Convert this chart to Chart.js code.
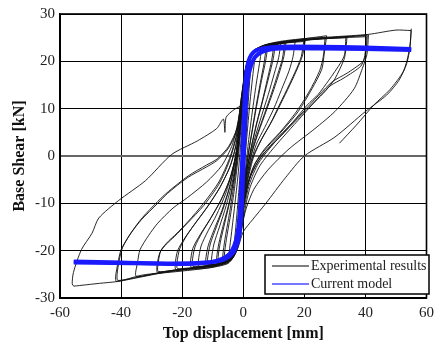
<!DOCTYPE html>
<html>
<head>
<meta charset="utf-8">
<script src="https://cdn.jsdelivr.net/npm/chart.js@4"></script>
<style>
  html, body { margin: 0; padding: 0; background: #fff; }
  #wrap { width: 440px; height: 345px; }
</style>
</head>
<body>
<div id="wrap"><canvas id="hyst" width="440" height="345"></canvas></div>
<script>
// axis ticks
const xTicks = [-60, -40, -20, 0, 20, 40, 60];
const yTicks = [-30, -20, -10, 0, 10, 20, 30];

// experimental loops, [displacement mm, shear kN]
const loopOuterDown = [[55,26.9],[54.6,23],[53.5,19.5],[51,16],[47,12.9],[40,9.4],[30,4],[20,0],[13.8,-4.6],[7.4,-10],[3,-13.5],[0,-16],[-1.8,-19.5],[-4,-22],[-10,-23.5],[-18,-24],[-25,-24.5],[-33,-25.5],[-41,-26.5],[-47,-26.9],[-55.5,-27.5]];
const loopOuterUp = [[-55.5,-27.5],[-56,-27],[-55.6,-24.6],[-53,-19.8],[-49.5,-16.3],[-47.3,-13.1],[-40.8,-9.4],[-32,-5.2],[-23.5,0.3],[-15,3.2],[-8.7,5.8],[-6.5,7.8],[-6,5],[-5.6,8.2],[-3,9.8],[-0.6,10.8],[0.3,14],[1,18],[2.5,21],[6,23.2],[12,24.2],[20,24.8],[30,25.2],[41,25.7],[50,26.6],[55,26.5]];
const loopOuterEnd = [[55,26.5],[54.4,22.5],[52.5,18],[48,14],[42.8,10.8],[37,6.5],[31.5,2.7]];
const loop41a = [[41,25.6],[40.5,21.5],[39,18.5],[36.3,14.2],[30,9.4],[23.5,5.8],[15,1.5],[8,-3],[3.5,-7],[1,-11],[-0.5,-15],[-2,-19.5],[-4.5,-22.3],[-10,-23.3],[-18,-23.8],[-25,-24.3],[-35,-25.4],[-34.6,-22.5],[-33.8,-19.8],[-31,-16.8],[-28,-14.2],[-23,-11],[-18.3,-8.8],[-12,-5.5],[-7,-2],[-3.5,2.5],[-1.5,8],[-0.3,14],[0.8,18.5],[2.5,21.3],[5.5,23],[12,24],[20,24.5],[30,25],[36,25.3],[41,25.6]];
const loop41b = [[40.6,25.4],[40,21],[39,19.8],[34,17.5],[29,15.6],[20.3,9.8],[10.6,3.1],[5,-1.5],[2,-6],[0.3,-11],[-1,-16],[-2.5,-20],[-5,-22.5],[-12,-23.5],[-20,-24],[-25,-24.5],[-33.4,-25.2],[-41.5,-26.5],[-41.8,-25.5],[-41,-22.5],[-40,-19.8],[-37,-16.5],[-33.4,-13.5],[-28,-10],[-24.8,-7.9],[-18.3,-4.6],[-12,-2.3],[-8.7,-1],[-5,1.5],[-2.2,5.2],[-0.8,11],[0.3,16],[1.5,19.8],[3.5,22.3],[8,23.6],[15,24.2],[25,24.8],[33,25.2],[40.6,25.4]];
const loop41c = [[40.3,25.2],[39.8,21.2],[38.5,19],[33,16.5],[28,14.6],[20,9],[11,2.5],[5.5,-2],[2.3,-6.5],[0.5,-11.5],[-0.8,-16.5],[-2.3,-20.3],[-5,-22.7],[-12,-23.7],[-20,-24.3],[-30,-25],[-41,-26.3],[-41.3,-25],[-40.6,-22],[-39.5,-19.3],[-36.5,-16],[-33,-13],[-28,-9.6],[-24.5,-7.5],[-18,-4.2],[-12,-1.9],[-8.5,-0.6],[-4.8,2],[-2,6],[-0.7,12],[0.4,16.5],[1.6,20],[3.8,22.5],[8,23.5],[15,24.1],[25,24.7],[33,25],[40.3,25.2]];
const loop34 = [[34,25.2],[33.5,22],[33,20.4],[30,16.3],[27,13.8],[23.5,11.5],[18,8],[12,4],[6,0],[2.5,-4],[0.5,-9],[-0.8,-14],[-2,-19],[-4,-21.8],[-8,-22.8],[-14,-23.4],[-20,-23.8],[-28,-24.6],[-28.3,-23.5],[-27.3,-20.4],[-25,-18.5],[-22.5,-17],[-18.3,-14.2],[-13,-10.5],[-8,-6],[-4.5,-1],[-2.3,4],[-0.9,10],[0.2,15.5],[1.3,19.5],[3,22],[7,23.4],[14,24.2],[22,24.7],[28,25],[34,25.2]];
const loop34b = [[33.6,25],[33.2,21.5],[32,19.8],[28,16],[24.5,13],[21,10.8],[16,7],[10,3],[5,-1],[2,-5],[0.3,-10],[-1,-15],[-2.2,-19.3],[-4.2,-22],[-9,-23],[-15,-23.6],[-20,-24],[-27.8,-24.4],[-28,-23.3],[-27,-20],[-24.5,-18],[-22,-16.5],[-18,-13.8],[-13,-10],[-8,-5.5],[-4.5,-0.5],[-2.2,4.5],[-0.8,10.5],[0.3,16],[1.4,19.8],[3.2,22.2],[7,23.3],[14,24],[22,24.6],[33.6,25]];
const loop27 = [[27.3,25.4],[26.5,21.5],[25.7,18.3],[22.5,14.2],[18,9.4],[13,5.5],[8,2],[4,-1.5],[1.5,-6],[0,-11],[-1.2,-16],[-2.5,-20],[-4.5,-22],[-9,-23],[-15,-23.5],[-22,-24],[-22.3,-23],[-21.5,-20],[-19,-17.2],[-16,-14.5],[-12,-11],[-8,-7],[-4.5,-2.5],[-2.5,2],[-1.2,8],[-0.2,14],[0.8,18.5],[2.3,21.3],[5,22.8],[10,23.8],[18,24.6],[27.3,25.4]];
const loop27b = [[26.8,25],[26.2,21],[25,18],[21.5,13.5],[17,9],[12,5],[7,1.5],[3.5,-2],[1.2,-6.5],[-0.2,-11.5],[-1.3,-16.5],[-2.6,-20.3],[-4.7,-22.2],[-9,-23.1],[-15,-23.6],[-21.5,-23.8],[-21.7,-22.6],[-20.8,-19.6],[-18.5,-16.8],[-15.5,-14],[-11.5,-10.5],[-7.5,-6.5],[-4.2,-2],[-2.3,2.5],[-1,8.5],[0,14.5],[1,19],[2.5,21.5],[5.5,23],[11,23.9],[18,24.5],[26.8,25]];
const loop20 = [[20.3,24.4],[19.5,21.5],[18.6,19.8],[16,16],[13,12],[9.5,7.5],[6,3.5],[3.5,0],[1.5,-5],[0,-10.5],[-1,-15.5],[-2.3,-19.5],[-4,-21.8],[-8,-22.8],[-12,-23.2],[-17,-23.5],[-17.3,-22.5],[-16.5,-19.5],[-14,-16.5],[-11,-13.5],[-7.5,-9.5],[-4.5,-5],[-2.5,0],[-1.3,6],[-0.3,13],[0.6,18],[2,21],[4.5,22.6],[9,23.5],[15,24],[20.3,24.4]];
const loop20b = [[19.8,24.2],[19,21],[17.5,18.5],[15,15],[12,11],[9,7],[5.5,3],[3,-0.5],[1.2,-5.5],[-0.2,-11],[-1.2,-16],[-2.5,-20],[-4.3,-22],[-8,-22.9],[-16.5,-23.3],[-16.7,-22.3],[-15.8,-19.2],[-13.5,-16.2],[-10.5,-13],[-7,-9],[-4.2,-4.5],[-2.3,0.5],[-1.1,6.5],[-0.1,13.5],[0.8,18.5],[2.2,21.3],[5,22.8],[10,23.6],[19.8,24.2]];
const loop17 = [[17,24.2],[16.3,21],[15,18],[12.5,14],[10,10],[7,6],[4.3,2.5],[2.2,-2],[0.6,-7.5],[-0.6,-13],[-1.6,-17.5],[-3,-20.8],[-5.5,-22.4],[-10,-23],[-14.5,-23.3],[-14.7,-22.2],[-13.8,-19],[-11.5,-15.8],[-8.8,-12.5],[-5.8,-8],[-3.5,-3],[-2,2],[-0.9,8],[0.1,14.5],[1,19],[2.6,21.6],[5.5,23],[11,23.8],[17,24.2]];
const loop12 = [[12.3,23.8],[11.6,20.8],[10.2,17.5],[8.2,13],[6,8.5],[3.8,3.8],[2,-0.5],[0.6,-5.5],[-0.5,-11.5],[-1.4,-16.5],[-2.6,-20],[-4.5,-21.9],[-7.5,-22.6],[-10.2,-22.9],[-10.4,-21.8],[-9.6,-18.6],[-7.8,-15],[-5.6,-10.5],[-3.6,-5.5],[-2.1,0],[-1,6.5],[0,13],[0.9,18],[2.3,21],[4.8,22.6],[8.5,23.3],[12.3,23.8]];
const loop14 = [[14,24],[13.3,21],[12,18],[10,14],[7.5,9.5],[5,5],[3,1],[1.3,-4],[0,-9.5],[-1,-14.5],[-2,-18.5],[-3.5,-21.3],[-6.5,-22.5],[-12,-23],[-12.3,-22],[-11.5,-19],[-9.5,-15.5],[-7,-11.5],[-4.5,-6.5],[-2.7,-1],[-1.4,5],[-0.4,12],[0.5,17],[1.8,20.5],[4,22.3],[8,23.3],[14,24]];
const loop14b = [[13.5,23.8],[12.8,20.5],[11.3,17.3],[9.3,13.3],[7,9],[4.6,4.6],[2.7,0.5],[1.1,-4.5],[-0.2,-10],[-1.1,-15],[-2.2,-19],[-3.8,-21.5],[-7,-22.6],[-11.5,-22.9],[-11.7,-21.8],[-10.8,-18.6],[-8.8,-15],[-6.5,-11],[-4.2,-6],[-2.5,-0.5],[-1.2,5.5],[-0.2,12.5],[0.7,17.5],[2,20.8],[4.3,22.4],[8.5,23.3],[13.5,23.8]];
const loop10 = [[10.5,23.5],[9.8,20.5],[8.5,17],[6.5,12],[4.5,7],[2.7,2],[1.2,-3],[0,-8.5],[-0.9,-13.5],[-1.8,-18],[-3.2,-21],[-5.5,-22.2],[-8.5,-22.5],[-8.7,-21.5],[-8,-18.5],[-6.5,-14.5],[-4.5,-9.5],[-2.8,-3.5],[-1.5,3],[-0.5,10],[0.4,16],[1.6,20],[3.5,22.2],[7,23],[10.5,23.5]];
const loop10b = [[10,23.3],[9.3,20.2],[8,16.5],[6.2,11.5],[4.2,6.5],[2.5,1.5],[1,-3.5],[-0.1,-9],[-1,-14],[-1.9,-18.3],[-3.3,-21.1],[-5.5,-22],[-8,-22.3],[-8.2,-21.2],[-7.5,-18.2],[-6,-14],[-4.2,-9],[-2.6,-3],[-1.3,3.5],[-0.3,10.5],[0.6,16.5],[1.8,20.3],[3.8,22.2],[7,22.9],[10,23.3]];
const loop8 = [[8,23],[7.3,20],[6,16],[4.5,11],[3,5.5],[1.6,0],[0.4,-6],[-0.6,-12],[-1.5,-17],[-2.7,-20.5],[-4,-21.7],[-6,-22],[-6.2,-21],[-5.5,-17.5],[-4.3,-13],[-3,-7.5],[-1.8,-1],[-0.7,6],[0.2,13],[1.1,18.5],[2.8,21.5],[5,22.6],[8,23]];
const loop8b = [[7.5,22.8],[6.8,19.6],[5.6,15.5],[4.2,10.5],[2.8,5],[1.4,-0.5],[0.2,-6.5],[-0.8,-12.5],[-1.7,-17.3],[-2.9,-20.6],[-4.5,-21.8],[-6.5,-22.2],[-6.7,-21.1],[-6,-17.6],[-4.8,-13.2],[-3.4,-7.6],[-2.1,-1.3],[-1,5.8],[0,12.8],[1,18.3],[2.6,21.3],[4.8,22.4],[7.5,22.8]];
const loop6 = [[6,22.5],[5.3,19.5],[4.2,15],[3,9.5],[1.8,3.5],[0.7,-3],[-0.3,-10],[-1.2,-16],[-2.3,-20],[-4.5,-21.5],[-4.6,-20.5],[-3.8,-16],[-2.8,-10.5],[-1.7,-4],[-0.7,3.5],[0.3,11],[1.2,17],[2.5,20.8],[4,22],[6,22.5]];
const loop4 = [[4,21.5],[3.3,18],[2.3,12],[1.3,5],[0.3,-2.5],[-0.6,-10],[-1.5,-16],[-3,-20],[-3,-19],[-2.3,-14],[-1.4,-7],[-0.4,1],[0.6,9],[1.6,16],[2.8,20],[4,21.5]];
const loop2 = [[2.5,19],[2,15],[1.3,8],[0.5,0],[-0.3,-8],[-1.1,-14],[-2,-17],[-1.8,-14],[-1,-6],[-0.2,2],[0.7,10],[1.6,16],[2.5,19]];

// current model, two passes of the same curve
const modelUp = [[-55.5,-22.3],[-40,-22.5],[-25,-22.8],[-15,-22.7],[-9,-22.2],[-5,-21],[-3,-19],[-1.8,-16],[-0.9,-10],[-0.3,0],[0.3,10],[0.9,17],[1.8,20.2],[3.5,22],[7,22.8],[12,23.1],[25,23.1],[40,22.9],[55,22.6]];
const modelDown = [[55,22.4],[40,22.6],[25,22.7],[12,22.7],[7,22.2],[4,21],[2.5,19],[1.5,16],[0.8,10],[0.2,0],[-0.4,-10],[-1.2,-16.5],[-2.5,-19.5],[-4.5,-21.2],[-8,-22.2],[-15,-22.6],[-30,-22.7],[-55.5,-22.5]];

const expLoops = [loopOuterDown, loopOuterUp, loopOuterEnd, loop41a, loop41b, loop41c, loop34, loop34b,
  loop27, loop27b, loop20, loop20b, loop17, loop14, loop14b, loop12, loop10, loop10b, loop8, loop8b, loop6, loop4, loop2];

const toPts = arr => arr.map(p => ({x: p[0], y: p[1]}));
const serif = '"Liberation Serif", "DejaVu Serif", serif';

const datasets = [];
datasets.push({label: 'Current model', data: toPts(modelUp), borderColor: '#1a1aff', borderWidth: 4, order: 0});
datasets.push({label: 'Current model', data: toPts(modelDown), borderColor: '#1a1aff', borderWidth: 4, order: 0});
expLoops.forEach(l => datasets.push({label: 'Experimental results', data: toPts(l), borderColor: '#111', borderWidth: 0.9, order: 1}));

const frameAndLegend = {
  id: 'frameAndLegend',
  afterDraw(chart) {
    const c = chart.ctx, a = chart.chartArea;
    c.save();
    c.strokeStyle = '#000';
    c.lineWidth = 1.6;
    c.strokeRect(a.left, a.top, a.right - a.left, a.bottom - a.top);
    // legend box
    const bx = 265, by = 255, bw = 164, bh = 39;
    c.fillStyle = '#fff';
    c.fillRect(bx, by, bw, bh);
    c.lineWidth = 1.5;
    c.strokeRect(bx, by, bw, bh);
    c.strokeStyle = '#555';
    c.beginPath(); c.moveTo(272, 266); c.lineTo(309, 266); c.stroke();
    c.strokeStyle = '#4a4aff';
    c.beginPath(); c.moveTo(272, 284); c.lineTo(309, 284); c.stroke();
    c.fillStyle = '#222';
    c.font = '14px ' + serif;
    c.textBaseline = 'middle';
    c.fillText('Experimental results', 311, 266);
    c.fillText('Current model', 311, 284);
    c.restore();
  }
};

new Chart(document.getElementById('hyst'), {
  type: 'scatter',
  data: {datasets},
  options: {
    responsive: false,
    animation: false,
    showLine: true,
    elements: {point: {radius: 0}, line: {tension: 0.25, fill: false}},
    layout: {padding: {top: 11, right: 7, left: 0, bottom: 0}},
    plugins: {legend: {display: false}, tooltip: {enabled: false}},
    scales: {
      x: {
        min: -60, max: 60,
        afterBuildTicks: s => { s.ticks = xTicks.map(v => ({value: v})); },
        afterFit: s => { s.height = 47; },
        grid: {color: '#000', lineWidth: 1, drawTicks: false},
        border: {color: '#000', width: 1.6},
        ticks: {color: '#222', padding: 6, maxRotation: 0, font: {family: serif, size: 15}},
        title: {display: true, text: 'Top displacement [mm]', color: '#111', padding: {top: 0, bottom: 2},
                font: {family: serif, size: 16, weight: 'bold'}}
      },
      y: {
        min: -30, max: 30,
        afterBuildTicks: s => { s.ticks = yTicks.map(v => ({value: v})); },
        afterFit: s => { s.width = 60; },
        grid: {color: ctx => ctx.tick && ctx.tick.value === 0 ? '#666' : '#000',
               lineWidth: ctx => ctx.tick && ctx.tick.value === 0 ? 2 : 1, drawTicks: false},
        border: {color: '#000', width: 1.6},
        ticks: {color: '#222', padding: 5, font: {family: serif, size: 15}},
        title: {display: true, text: 'Base Shear [kN]', color: '#111', padding: {top: 10, bottom: 0},
                font: {family: serif, size: 16, weight: 'bold'}}
      }
    }
  },
  plugins: [frameAndLegend]
});
</script>
</body>
</html>
